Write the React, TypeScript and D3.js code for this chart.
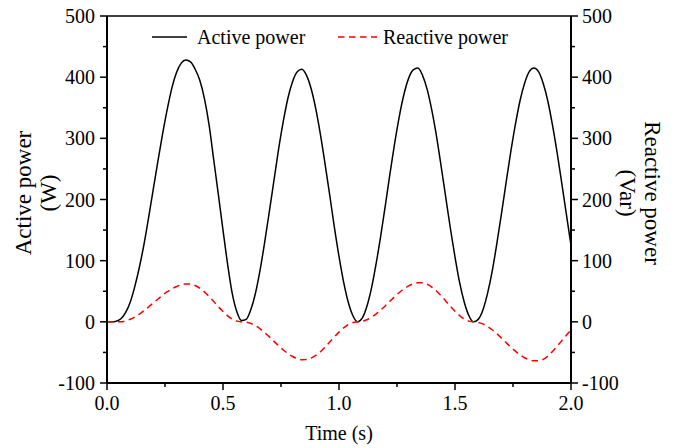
import React from "react";
import * as d3 from "d3";

const time = [
  0, 0.02, 0.04, 0.06, 0.08, 0.1, 0.12, 0.14, 0.16, 0.18,
  0.2, 0.22, 0.24, 0.26, 0.28, 0.3, 0.32, 0.34, 0.36, 0.38,
  0.4, 0.42, 0.44, 0.46, 0.48, 0.5, 0.52, 0.54, 0.56, 0.58,
  0.6, 0.62, 0.64, 0.66, 0.68, 0.7, 0.72, 0.74, 0.76, 0.78,
  0.8, 0.82, 0.84, 0.86, 0.88, 0.9, 0.92, 0.94, 0.96, 0.98,
  1.0, 1.02, 1.04, 1.06, 1.08, 1.1, 1.12, 1.14, 1.16, 1.18,
  1.2, 1.22, 1.24, 1.26, 1.28, 1.3, 1.32, 1.34, 1.36, 1.38,
  1.4, 1.42, 1.44, 1.46, 1.48, 1.5, 1.52, 1.54, 1.56, 1.58,
  1.6, 1.62, 1.64, 1.66, 1.68, 1.7, 1.72, 1.74, 1.76, 1.78,
  1.8, 1.82, 1.84, 1.86, 1.88, 1.9, 1.92, 1.94, 1.96, 1.98,
  2.0,
];

const activePower = [
  0, 0, 1, 5, 15, 32, 58, 90, 128, 172,
  218, 264, 308, 348, 383, 408, 423, 428, 425, 413,
  395, 365, 322, 265, 208, 150, 94, 46, 16, 2,
  4, 20, 47, 85, 131, 181, 232, 283, 328, 366,
  393, 409, 413, 403, 381, 348, 306, 258, 207, 155,
  107, 65, 32, 10, 0, 6, 25, 55, 95, 141,
  191, 243, 292, 336, 372, 398, 412, 415, 403, 380,
  346, 304, 255, 204, 153, 106, 64, 32, 10, 0,
  4, 19, 46, 82, 127, 176, 227, 277, 322, 361,
  390, 409, 415, 409, 390, 361, 322, 277, 227, 176,
  125,
];

const reactivePower = [
  0, 0, 0, 0, 1.5, 4.2, 8, 12.8, 18.4, 24.6,
  31, 37.4, 43.6, 49.2, 54.1, 57.8, 60.5, 61.8, 62, 59.4,
  55, 48.9, 41.4, 33.1, 24.7, 16.8, 9.8, 4.5, 1.2, 0,
  -0.5, -2.6, -6.4, -11.5, -17.7, -24.6, -31.9, -39.2, -46, -51.9,
  -56.7, -60.1, -61.8, -61.7, -59.4, -55, -48.9, -41.4, -33.1, -24.7,
  -16.8, -9.8, -4.5, -1.2, 0, 0.9, 3.4, 7.5, 12.9, 19.3,
  26.4, 33.9, 41.2, 48, 54, 58.7, 62.1, 63.8, 63.7, 61.4,
  56.8, 50.5, 42.7, 34.2, 25.5, 17.3, 10.2, 4.7, 1.2, 0,
  -0.9, -3.4, -7.5, -12.9, -19.3, -26.4, -33.9, -41.2, -48, -54,
  -58.7, -62.1, -63.8, -63.7, -61.4, -56, -48.5, -40, -31, -22,
  -13,
];

const yTicks = [-100, 0, 100, 200, 300, 400, 500];
const yMinorTicks = [-50, 50, 150, 250, 350, 450];
const xTicks = [0, 0.5, 1.0, 1.5, 2.0];
const xMinorTicks = [0.25, 0.75, 1.25, 1.75];
const seriesNames = ["Active power", "Reactive power"];
const leftTitle = ["Active power", "(W)"];
const rightTitle = ["Reactive power", "(Var)"];
const xTitle = "Time (s)";

const FONT = "'Liberation Serif', 'Times New Roman', serif";

export default function App() {
  const W = 678;
  const H = 448;
  const L = 107, R = 571, T = 16, B = 383;
  const x = d3.scaleLinear().domain([0, 2]).range([L, R]);
  const y = d3.scaleLinear().domain([-100, 500]).range([B, T]);
  const mk = (vals: number[]) =>
    d3
      .line<number>()
      .x((_, i) => x(time[i]))
      .y((d) => y(d))
      .curve(d3.curveMonotoneX)(vals) || "";

  const fmtX = d3.format(".1f");

  return (
    <svg
      width={W}
      height={H}
      style={{ position: "absolute", left: 0, top: 0, background: "#fff" }}
      fontFamily={FONT}
    >
      <rect x={0} y={0} width={W} height={H} fill="#fff" />
      {/* series */}
      <path d={mk(activePower)} fill="none" stroke="#000" strokeWidth={1.5} />
      <path
        d={mk(reactivePower)}
        fill="none"
        stroke="#ff0000"
        strokeWidth={1.5}
        strokeDasharray="6.5,4.5"
      />

      {/* frame */}
      <line x1={L} x2={R} y1={T} y2={T} stroke="#000" strokeWidth={1.5} />
      <line x1={L} x2={R} y1={B} y2={B} stroke="#000" strokeWidth={2} />
      <line x1={L} x2={L} y1={T} y2={B} stroke="#000" strokeWidth={2} />
      <line x1={R} x2={R} y1={T} y2={B} stroke="#000" strokeWidth={2} />

      {/* y ticks left & right */}
      {yTicks.map((v) => (
        <g key={"yt" + v}>
          <line x1={L - 7} x2={L} y1={y(v)} y2={y(v)} stroke="#000" strokeWidth={1.5} />
          <line x1={R} x2={R + 7} y1={y(v)} y2={y(v)} stroke="#000" strokeWidth={1.5} />
          <text x={L - 12} y={y(v)} dy="0.35em" textAnchor="end" fontSize={20}>
            {v}
          </text>
          <text x={R + 11} y={y(v)} dy="0.35em" textAnchor="start" fontSize={20}>
            {v}
          </text>
        </g>
      ))}
      {yMinorTicks.map((v) => (
        <g key={"ym" + v}>
          <line x1={L - 4} x2={L} y1={y(v)} y2={y(v)} stroke="#000" strokeWidth={1.5} />
          <line x1={R} x2={R + 4} y1={y(v)} y2={y(v)} stroke="#000" strokeWidth={1.5} />
        </g>
      ))}

      {/* x ticks */}
      {xTicks.map((v) => (
        <g key={"xt" + v}>
          <line x1={x(v)} x2={x(v)} y1={B} y2={B + 7} stroke="#000" strokeWidth={1.5} />
          <text x={x(v)} y={410} textAnchor="middle" fontSize={20}>
            {fmtX(v)}
          </text>
        </g>
      ))}
      {xMinorTicks.map((v) => (
        <line key={"xm" + v} x1={x(v)} x2={x(v)} y1={B} y2={B + 4} stroke="#000" strokeWidth={1.5} />
      ))}

      {/* titles */}
      <text x={(L + R) / 2} y={440} textAnchor="middle" fontSize={20}>
        {xTitle}
      </text>
      <g transform="translate(31,193) rotate(-90)">
        <text x={0} y={0} textAnchor="middle" fontSize={23}>
          {leftTitle[0]}
        </text>
        <text x={0} y={25} textAnchor="middle" fontSize={23}>
          {leftTitle[1]}
        </text>
      </g>
      <g transform="translate(645,193) rotate(90)">
        <text x={0} y={0} textAnchor="middle" fontSize={23}>
          {rightTitle[0]}
        </text>
        <text x={0} y={25} textAnchor="middle" fontSize={23}>
          {rightTitle[1]}
        </text>
      </g>

      {/* legend */}
      <line x1={152} x2={187} y1={37} y2={37} stroke="#000" strokeWidth={1.5} />
      <text x={197} y={44} fontSize={20}>
        {seriesNames[0]}
      </text>
      <line
        x1={338}
        x2={377}
        y1={37}
        y2={37}
        stroke="#ff0000"
        strokeWidth={1.5}
        strokeDasharray="6.5,4.5"
      />
      <text x={383} y={44} fontSize={20}>
        {seriesNames[1]}
      </text>
    </svg>
  );
}
